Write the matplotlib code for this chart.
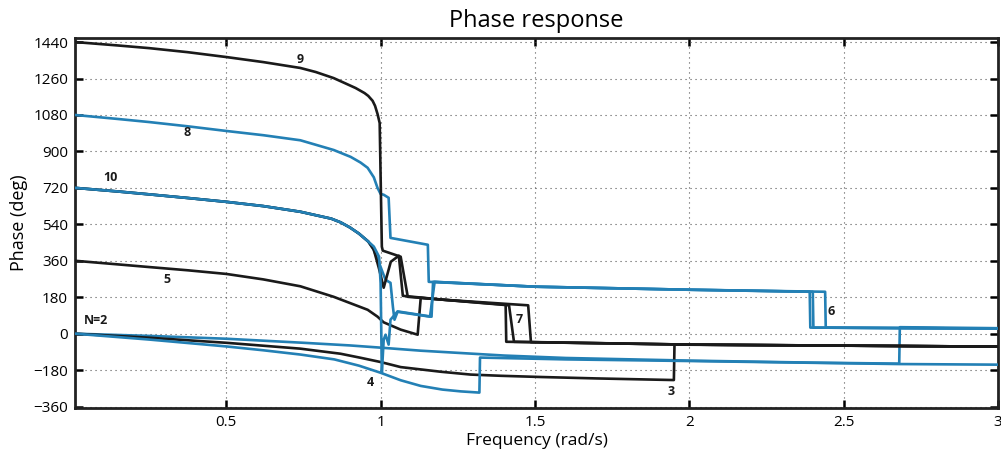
import numpy as np
import matplotlib
matplotlib.use('Agg')
import matplotlib.pyplot as plt

plt.rcParams['font.family'] = ['Open Sans', 'DejaVu Sans']

# curves: (frequency rad/s, phase deg)
common720_w = [0.01, 0.15, 0.25, 0.375, 0.5, 0.62, 0.74, 0.84, 0.87, 0.9, 0.93, 0.96]
common720_p = [720, 702, 688, 670, 651, 630, 602, 568, 550, 525, 494, 455]

w2 = [0.01, 0.25, 0.5, 0.75, 0.9, 1.0, 1.13, 1.4, 1.6, 2.0, 2.4, 2.68, 2.682, 3.0]
p2 = [0, -11, -25, -45, -58, -69, -84, -108, -120, -133, -143, -148, 32, 27]

w3 = [0.01, 0.25, 0.5, 0.74, 0.87, 0.935, 1.0, 1.065, 1.195, 1.292, 1.39, 1.52, 1.7, 1.95,
      1.952, 3.0]
p3 = [0, -20, -45, -74, -99, -119, -140, -165, -188, -202, -208, -214, -221, -229,
      -54, -64]

w4 = [0.01, 0.25, 0.5, 0.62, 0.74, 0.85, 0.93, 1.0, 1.065, 1.13, 1.2, 1.26, 1.32, 1.322,
      1.6, 2.0, 2.68, 3.0]
p4 = [0, -29, -63, -82, -103, -127, -158, -193, -230, -258, -276, -285, -291, -118,
      -127, -135, -150, -153]

w5 = [0.01, 0.15, 0.25, 0.375, 0.5, 0.62, 0.74, 0.848, 0.958, 0.99, 1.01, 1.065, 1.12,
      1.13, 1.2, 1.416, 1.432, 2.0, 3.0]
p5 = [360, 342, 329, 313, 295, 268, 234, 182, 118, 84, 56, 20, -5,
      177, 168, 140, -40, -54, -64]

w6 = common720_w + [0.975, 0.995, 1.007, 1.016, 1.032, 1.04, 1.045, 1.055, 1.16, 1.175,
                    1.5, 2.0, 2.44, 2.442, 3.0]
p6 = common720_p + [422, 350, 301, 266, 251, 130, 69, 108, 84, 256,
                    232, 217, 207, 30, 25]

w7 = common720_w + [0.978, 0.995, 1.01, 1.033, 1.059, 1.072, 1.2, 1.405, 1.407, 2.0, 3.0]
p7 = common720_p + [414, 320, 227, 355, 385, 187, 168, 143, -40, -54, -64]

w8 = [0.01, 0.15, 0.25, 0.375, 0.5, 0.62, 0.74, 0.848, 0.903, 0.935, 0.958, 0.978, 0.99,
      1.0, 1.01, 1.026, 1.032, 1.153, 1.156, 1.5, 2.0, 2.39, 2.392, 3.0]
p8 = [1080, 1060, 1045, 1024, 1001, 980, 955, 907, 873, 845, 819, 772, 720,
      690, 686, 671, 473, 439, 256, 232, 217, 207, 30, 25]

w9 = [0.01, 0.15, 0.25, 0.375, 0.5, 0.62, 0.74, 0.79, 0.848, 0.88, 0.919, 0.948, 0.96,
      0.974, 0.982, 0.99, 0.997, 1.004, 1.007, 1.065, 1.088, 1.2, 1.478, 1.487, 2.0, 3.0]
p9 = [1440, 1423, 1410, 1390, 1366, 1341, 1312, 1292, 1262, 1240, 1213, 1188, 1174,
      1150, 1125, 1085, 1040, 430, 410, 380, 182, 168, 140, -42, -54, -64]

w10 = common720_w + [0.978, 0.995, 1.0, 1.004, 1.01, 1.016, 1.026, 1.032, 1.055, 1.165, 1.17,
                     1.5, 2.0, 2.40, 2.402, 3.0]
p10 = common720_p + [430, 380, 250, -193, -30, -5, -54, 69, 110, 84, 256,
                     232, 217, 207, 30, 25]

orders = [2, 3, 4, 5, 6, 7, 8, 9, 10]
freqs = [w2, w3, w4, w5, w6, w7, w8, w9, w10]
phases = [p2, p3, p4, p5, p6, p7, p8, p9, p10]

# curve labels
label_text = ['N=2', '3', '4', '5', '6', '7', '8', '9', '10']
label_w = [0.078, 1.942, 0.968, 0.309, 2.461, 1.448, 0.374, 0.74, 0.124]
label_p = [64, -286, -242, 266, 108, 69, 991, 1352, 769]

blue = '#2380b5'
black = '#1a1a1a'

fig = plt.figure(figsize=(10.01, 4.55), dpi=100, facecolor='w')
ax = fig.add_axes([75 / 1001, 1 - 408 / 455, 923 / 1001, 370 / 455])

for n, w, p in zip(orders, freqs, phases):
    color = blue if n % 2 == 0 else black
    ax.plot(w, p, '-', color=color, linewidth=1.9, solid_joinstyle='round', zorder=3)

for t, x, y in zip(label_text, label_w, label_p):
    ax.text(x, y, t, fontsize=9, fontweight='bold', ha='center', va='center',
            color=black, zorder=4)

ax.set_xlim(0.01, 3)
ax.set_ylim(-367, 1460)
ax.set_xticks([0.5, 1, 1.5, 2, 2.5, 3])
ax.set_xticklabels(['0.5', '1', '1.5', '2', '2.5', '3'])
ax.set_yticks(np.arange(-360, 1441, 180))
ax.grid(True, linestyle=(0, (1, 3.5)), color='#555555', linewidth=0.8)
ax.tick_params(direction='in', length=6, width=1.8, top=True, right=True,
               labelsize=11, pad=5)
for s in ax.spines.values():
    s.set_linewidth(2.0)
    s.set_color('#222222')

ax.set_title('Phase response', fontsize=17, pad=8)
ax.set_xlabel('Frequency (rad/s)', fontsize=12.5, labelpad=2)
ax.set_ylabel('Phase (deg)', fontsize=13, labelpad=4)

fig.savefig('out.png', dpi=100)
